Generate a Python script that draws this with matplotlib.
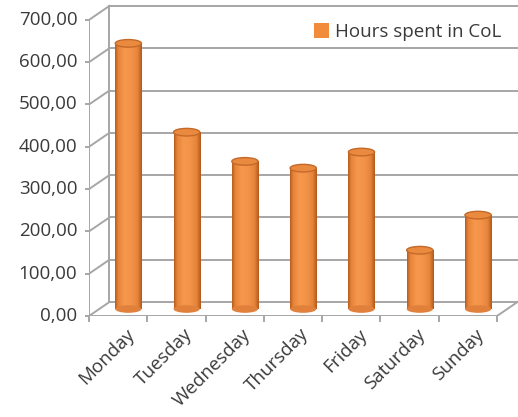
import matplotlib.pyplot as plt
import numpy as np
from matplotlib.patches import Ellipse, Patch
from matplotlib.colors import LinearSegmentedColormap

# Data
days = ['Monday', 'Tuesday', 'Wednesday', 'Thursday', 'Friday', 'Saturday', 'Sunday']
hours = [628, 418, 349, 333, 371, 139, 222]
yticks = [0, 100, 200, 300, 400, 500, 600, 700]

plt.rcParams['font.family'] = ['Open Sans', 'DejaVu Sans']

fig = plt.figure(figsize=(5.18, 4.17), dpi=100)
ax = fig.add_axes([89 / 518, 101 / 417, 429 / 518, 316 / 417])
ax.axis('off')

# depth offset of the back wall (in data units)
dx, dy = 0.35, 33
grid_c = '#a6a6a6'
lw = 1.4
n = len(days)

# walls / gridlines
for v in yticks:
    ax.plot([-0.5 + dx, n - 0.5 + dx], [v + dy, v + dy], color=grid_c, lw=lw, zorder=1)
    ax.plot([-0.5, -0.5 + dx], [v, v + dy], color=grid_c, lw=lw, zorder=1)
    ax.plot([-0.5 - 0.06, -0.5], [v, v], color=grid_c, lw=lw, zorder=1, clip_on=False)
ax.plot([-0.5 + dx, -0.5 + dx], [dy, 700 + dy], color=grid_c, lw=lw, zorder=1)
ax.plot([-0.5, -0.5], [0, 700], color=grid_c, lw=lw, zorder=5)
ax.plot([-0.5, n - 0.5], [0, 0], color=grid_c, lw=lw, zorder=5)
ax.plot([n - 0.5, n - 0.5 + dx], [0, dy], color=grid_c, lw=lw, zorder=1)
for i in range(n + 1):
    ax.plot([i - 0.5, i - 0.5], [0, -12], color=grid_c, lw=lw, zorder=5, clip_on=False)

for v in yticks:
    ax.text(-0.5 - 0.2, v, f'{v},00', ha='right', va='center',
            fontsize=13.5, color='#3a3a3a')

for i, d in enumerate(days):
    ax.text(i + 0.12, -22, d, rotation=45, ha='right', va='top', fontsize=13.5,
            color='#3a3a3a', rotation_mode='anchor', clip_on=False)

# cylinders
cmap = LinearSegmentedColormap.from_list('cyl', [
    (0.0, '#b85e1c'), (0.12, '#e8843a'), (0.35, '#f5984c'), (0.6, '#f3934a'),
    (0.85, '#e5843a'), (1.0, '#b35a1a')])
grad = np.linspace(0, 1, 64).reshape(1, -1)
w = 0.45
eh = 18
for i, v in enumerate(hours):
    x = i + dx / 2
    base = dy / 2
    top = v + dy / 2
    ax.imshow(grad, cmap=cmap, extent=[x - w / 2, x + w / 2, base, top],
              aspect='auto', zorder=3, interpolation='bilinear')
    bottom = Ellipse((x, base), w, eh, facecolor='#e0803a', edgecolor='none', zorder=3)
    ax.add_patch(bottom)
    ax.add_patch(Ellipse((x, top), w, eh, facecolor='#e98a3e', edgecolor='#c4692a',
                         lw=1, zorder=4))
ax.set_xlim(-0.5, 6.86)
ax.set_ylim(0, 747)

handle = Patch(facecolor='#f08c3c', edgecolor='none')
fig.legend([handle], ['Hours spent in CoL'], loc='upper right', bbox_to_anchor=(1.0, 0.985),
           frameon=False, fontsize=13.5, handlelength=0.8, handleheight=0.8,
           handletextpad=0.3, labelcolor='#3a3a3a')

fig.savefig('out.png', dpi=100, facecolor='white')
